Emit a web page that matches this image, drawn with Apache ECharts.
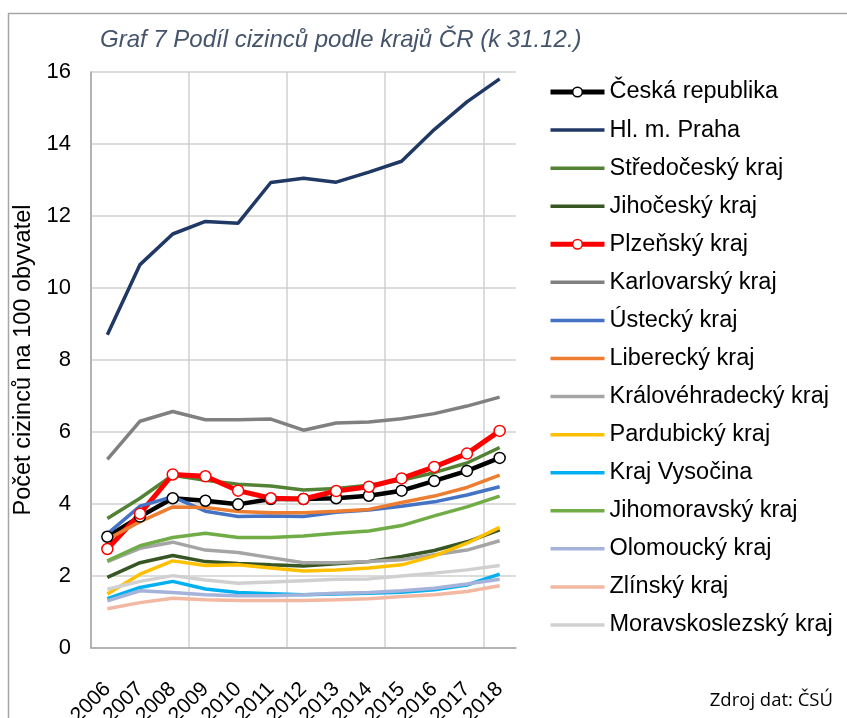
<!DOCTYPE html>
<html>
<head>
<meta charset="utf-8">
<script src="https://cdn.jsdelivr.net/npm/echarts@6/dist/echarts.min.js"></script>
<style>html,body{margin:0;padding:0;background:#fff}#c{width:847px;height:718px}</style>
</head>
<body>
<div id="c"></div>
<script>
const years = ['2006','2007','2008','2009','2010','2011','2012','2013','2014','2015','2016','2017','2018'];
const yTicks = [0, 2, 4, 6, 8, 10, 12, 14, 16];

const ceskaRepublika = [3.09, 3.65, 4.16, 4.09, 3.99, 4.14, 4.14, 4.16, 4.23, 4.37, 4.64, 4.92, 5.28];
const praha = [8.70, 10.65, 11.50, 11.85, 11.80, 12.93, 13.05, 12.94, 13.22, 13.52, 14.40, 15.17, 15.81];
const stredocesky = [3.60, 4.16, 4.80, 4.66, 4.55, 4.50, 4.39, 4.43, 4.52, 4.66, 4.87, 5.14, 5.57];
const jihocesky = [1.96, 2.37, 2.57, 2.40, 2.35, 2.31, 2.28, 2.34, 2.40, 2.54, 2.71, 2.95, 3.28];
const plzensky = [2.75, 3.73, 4.82, 4.77, 4.37, 4.16, 4.14, 4.36, 4.48, 4.71, 5.03, 5.40, 6.03];
const karlovarsky = [5.24, 6.30, 6.57, 6.34, 6.34, 6.36, 6.05, 6.25, 6.28, 6.37, 6.51, 6.72, 6.97];
const ustecky = [3.17, 3.94, 4.20, 3.80, 3.65, 3.67, 3.65, 3.77, 3.83, 3.94, 4.06, 4.25, 4.48];
const liberecky = [3.02, 3.51, 3.92, 3.90, 3.79, 3.76, 3.76, 3.80, 3.85, 4.04, 4.22, 4.46, 4.80];
const kralovehradecky = [2.40, 2.77, 2.94, 2.72, 2.65, 2.51, 2.37, 2.37, 2.40, 2.45, 2.59, 2.72, 2.98];
const pardubicky = [1.50, 2.05, 2.42, 2.29, 2.31, 2.22, 2.14, 2.17, 2.22, 2.31, 2.56, 2.91, 3.35];
const vysocina = [1.37, 1.68, 1.85, 1.64, 1.54, 1.51, 1.48, 1.50, 1.52, 1.55, 1.62, 1.75, 2.05];
const jihomoravsky = [2.42, 2.84, 3.07, 3.19, 3.07, 3.07, 3.11, 3.19, 3.25, 3.40, 3.67, 3.92, 4.22];
const olomoucky = [1.31, 1.59, 1.54, 1.48, 1.45, 1.45, 1.48, 1.52, 1.54, 1.59, 1.66, 1.78, 1.91];
const zlinsky = [1.09, 1.26, 1.38, 1.34, 1.32, 1.32, 1.32, 1.34, 1.37, 1.43, 1.48, 1.57, 1.73];
const moravskoslezsky = [1.63, 1.85, 2.01, 1.89, 1.80, 1.83, 1.87, 1.91, 1.92, 2.00, 2.08, 2.17, 2.29];

const seriesDefs = [
  ['Česká republika', ceskaRepublika, '#000000', 4.5, true],
  ['Hl. m. Praha', praha, '#203864', 3.5, false],
  ['Středočeský kraj', stredocesky, '#548235', 3.5, false],
  ['Jihočeský kraj', jihocesky, '#375623', 3.5, false],
  ['Plzeňský kraj', plzensky, '#FF0000', 5, true],
  ['Karlovarský kraj', karlovarsky, '#808080', 3.5, false],
  ['Ústecký kraj', ustecky, '#4472C4', 3.5, false],
  ['Liberecký kraj', liberecky, '#ED7D31', 3.5, false],
  ['Královéhradecký kraj', kralovehradecky, '#A5A5A5', 3.5, false],
  ['Pardubický kraj', pardubicky, '#FFC000', 3.5, false],
  ['Kraj Vysočina', vysocina, '#00B0F0', 3.5, false],
  ['Jihomoravský kraj', jihomoravsky, '#70AD47', 3.5, false],
  ['Olomoucký kraj', olomoucky, '#A5B3DB', 3.5, false],
  ['Zlínský kraj', zlinsky, '#F2B8A2', 3.5, false],
  ['Moravskoslezský kraj', moravskoslezsky, '#D0D0D0', 3.5, false]
];

const chart = echarts.init(document.getElementById('c'), null, {renderer: 'canvas'});
const font = 'Liberation Sans, Arial, sans-serif';

const series = seriesDefs.map(([name, data, color, width, marker]) => ({
  name: name,
  type: 'line',
  xAxisIndex: 0,
  yAxisIndex: 0,
  data: data,
  symbol: marker ? 'circle' : 'none',
  symbolSize: 11,
  showSymbol: marker,
  lineStyle: {color: color, width: width},
  itemStyle: marker ? {color: '#ffffff', borderColor: color, borderWidth: 1.5} : {color: color},
  emphasis: {disabled: true},
  animation: false,
  z: 3
}));

const legendData = seriesDefs.map(([name, data, color, width, marker]) => marker
  ? {name: name, lineStyle: {width: 5, color: color}, itemStyle: {color: '#ffffff', borderColor: color, borderWidth: 1.5}}
  : {name: name, icon: 'path://M0,0H54V3.5H0Z', itemStyle: {color: color}});

// plot area geometry (pixels)
const G = {left: 91, top: 72, width: 425, height: 576};

chart.setOption({
  backgroundColor: '#ffffff',
  animation: false,
  title: {
    text: 'Graf 7 Podíl cizinců podle krajů ČR (k 31.12.)',
    left: 95,
    top: 23,
    textStyle: {fontFamily: font, fontSize: 24, fontStyle: 'italic', fontWeight: 'normal', color: '#44546A'}
  },
  legend: {
    orient: 'vertical',
    left: 543,
    top: 75,
    itemWidth: 54,
    itemHeight: 12,
    itemGap: 14.07,
    symbolKeepAspect: true,
    selectedMode: false,
    textStyle: {fontFamily: font, fontSize: 23.5, color: '#000000', lineHeight: 23.5},
    data: legendData
  },
  grid: [
    {left: G.left, top: G.top, width: G.width, height: G.height, containLabel: false, outerBoundsMode: 'none'},
    {left: G.left, top: G.top, width: G.width * 12 / 13, height: G.height, containLabel: false, outerBoundsMode: 'none'}
  ],
  xAxis: [
    {
      type: 'category',
      gridIndex: 0,
      data: years,
      boundaryGap: true,
      axisLine: {show: true, lineStyle: {color: '#A6A6A6', width: 1.5}},
      axisTick: {show: false},
      axisLabel: {interval: 0, rotate: 45, fontFamily: font, fontSize: 21, color: '#000000', margin: 38, hideOverlap: false},
      splitLine: {show: false},
      z: 2
    },
    {
      type: 'value',
      gridIndex: 1,
      min: 0,
      max: 12,
      interval: 3,
      axisLine: {show: false},
      axisTick: {show: false},
      axisLabel: {show: false},
      splitLine: {show: true, lineStyle: {color: '#D0D0D0', width: 1.5}},
      z: 0
    }
  ],
  yAxis: [
    {
      type: 'value',
      gridIndex: 0,
      min: yTicks[0],
      max: yTicks[yTicks.length - 1],
      interval: 2,
      name: 'Počet cizinců na 100 obyvatel',
      nameLocation: 'middle',
      nameGap: 43,
      nameTextStyle: {fontFamily: font, fontSize: 23.5, color: '#000000'},
      axisLine: {show: true, lineStyle: {color: '#A6A6A6', width: 1.5}},
      axisTick: {show: false},
      axisLabel: {fontFamily: font, fontSize: 22, color: '#000000', margin: 20},
      splitLine: {show: true, lineStyle: {color: '#D0D0D0', width: 1.5}},
      z: 2
    },
    {
      type: 'value',
      gridIndex: 1,
      min: 0,
      max: 1,
      show: false,
      splitLine: {show: false}
    }
  ],
  graphic: [
    {type: 'line', shape: {x1: 8, y1: 13.5, x2: 847, y2: 13.5}, style: {stroke: '#A6A6A6', lineWidth: 1.5}, silent: true},
    {type: 'line', shape: {x1: 8.5, y1: 13, x2: 8.5, y2: 718}, style: {stroke: '#A6A6A6', lineWidth: 1.5}, silent: true},
    {type: 'text', right: 14, top: 691, style: {text: 'Zdroj dat: ČSÚ', font: '18.5px "Open Sans", sans-serif', fill: '#000000'}, silent: true}
  ],
  series: series
});
</script>
</body>
</html>
